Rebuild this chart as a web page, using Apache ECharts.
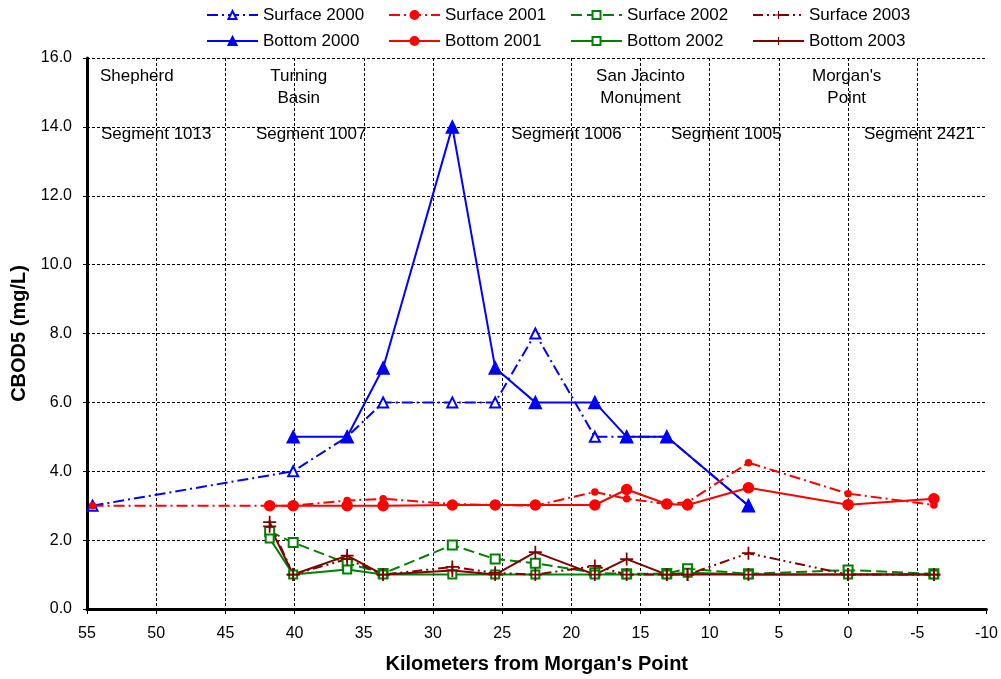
<!DOCTYPE html>
<html>
<head>
<meta charset="utf-8">
<script src="https://cdn.jsdelivr.net/npm/echarts@6/dist/echarts.min.js"></script>
<style>
  html, body { margin: 0; padding: 0; background: #fff; }
  #main { width: 1001px; height: 679px; }
</style>
</head>
<body>
<div id="main"></div>
<script>
// stations, km from Morgan's Point
var stations = [54.6, 41.8, 40.1, 36.2, 33.6, 28.6, 25.5, 22.6, 18.3, 16.0, 13.1, 11.6, 7.2, 0.0, -6.2];

// CBOD5 (mg/L) per station, null = no sample
var surface2000 = [3.0, null, 4.0, 5.0, 6.0, 6.0, 6.0, 8.0, 5.0, 5.0, 5.0, null, 3.0, null, null];
var bottom2000  = [null, null, 5.0, 5.0, 7.0, 14.0, 7.0, 6.0, 6.0, 5.0, 5.0, null, 3.0, null, null];
var surface2001 = [3.0, 3.0, 3.0, 3.15, 3.2, 3.05, 3.02, 3.0, 3.4, 3.2, 3.05, 3.1, 4.25, 3.35, 3.02];
var bottom2001  = [null, 3.0, 3.0, 3.0, 3.0, 3.02, 3.02, 3.02, 3.02, 3.47, 3.05, 3.02, 3.52, 3.03, 3.2];
var surface2002 = [null, 2.25, 1.93, 1.33, 1.03, 1.86, 1.45, 1.33, 1.05, 1.02, 1.03, 1.17, 1.02, 1.13, 1.02];
var bottom2002  = [null, 2.05, 1.0, 1.15, 1.0, 1.0, 1.0, 1.0, 1.0, 1.0, 1.0, 1.05, 1.0, 1.0, 1.0];
var surface2003 = [null, 2.52, 1.0, 1.45, 1.0, 1.22, 1.05, 1.0, 1.25, 1.0, 1.0, 1.0, 1.62, 1.0, 1.0];
var bottom2003  = [null, 2.4, 1.0, 1.55, 1.0, 1.12, 1.0, 1.65, 1.0, 1.45, 1.0, 1.0, 1.0, 1.0, 1.0];

// place / segment notes on the plot
var noteText = ['Shepherd', 'Turning', 'Basin', 'San Jacinto', 'Monument', "Morgan's", 'Point',
                'Segment 1013', 'Segment 1007', 'Segment 1006', 'Segment 1005', 'Segment 2421'];
var noteKm   = [51.4, 39.7, 39.7, 15.0, 15.0, 0.1, 0.1, 50.0, 38.8, 20.35, 8.8, -5.15];
var noteVal  = [15.48, 15.48, 14.84, 15.48, 14.84, 15.48, 14.84, 13.79, 13.79, 13.79, 13.79, 13.79];

var FONT = 'Liberation Sans, Arial, sans-serif';
var plus = 'path://M5.2,0H6.8V5.2H12V6.8H6.8V12H5.2V6.8H0V5.2H5.2Z';

function pairs(vals) {
  var out = [];
  stations.forEach(function (km, i) { if (vals[i] != null) out.push([km, vals[i]]); });
  return out;
}

function line(name, vals, color, dash, symbol, size, bw) {
  return {
    name: name,
    type: 'line',
    data: pairs(vals),
    symbol: symbol,
    symbolSize: size,
    showAllSymbol: true,
    lineStyle: { color: color, width: 2, type: dash },
    itemStyle: { color: color, borderColor: color, borderWidth: bw == null ? 1.5 : bw },
    emphasis: { disabled: true },
    z: 3
  };
}

var dashDot = [11, 4, 2, 4];
var dashDot2 = [10, 4, 2, 4, 2, 4];

var series = [
  line('Surface 2000', surface2000, '#0000ff', dashDot, 'emptyTriangle', 10),
  line('Bottom 2000', bottom2000, '#0000ff', 'solid', 'triangle', 12),
  line('Surface 2001', surface2001, '#ff0000', dashDot, 'circle', 6),
  line('Bottom 2001', bottom2001, '#ff0000', 'solid', 'circle', 10),
  line('Surface 2002', surface2002, '#008000', [11, 5], 'emptyRect', 9),
  line('Bottom 2002', bottom2002, '#008000', 'solid', 'emptyRect', 8, 2.5),
  line('Surface 2003', surface2003, '#800000', dashDot2, plus, 13, 0),
  line('Bottom 2003', bottom2003, '#800000', 'solid', plus, 13, 0),
  {
    type: 'custom',
    name: 'notes',
    silent: true,
    data: noteText.map(function (t, i) { return [noteKm[i], noteVal[i]]; }),
    renderItem: function (params, api) {
      var p = api.coord([api.value(0), api.value(1)]);
      return {
        type: 'text',
        x: p[0], y: p[1],
        style: {
          text: noteText[params.dataIndex],
          fill: '#000',
          font: '17px ' + FONT,
          align: 'center',
          verticalAlign: 'middle'
        }
      };
    },
    z: 2
  }
];

function legendCol(left, names) {
  return {
    orient: 'vertical',
    left: left,
    top: 6,
    padding: 0,
    itemWidth: 51,
    itemHeight: 10,
    itemGap: 8,
    data: names,
    selectedMode: false,
    textStyle: { fontSize: 17, fontFamily: FONT, color: '#000', lineHeight: 18 }
  };
}

var option = {
  backgroundColor: '#fff',
  animation: false,
  legend: [
    legendCol(206, ['Surface 2000', 'Bottom 2000']),
    legendCol(388, ['Surface 2001', 'Bottom 2001']),
    legendCol(570, ['Surface 2002', 'Bottom 2002']),
    legendCol(752, ['Surface 2003', 'Bottom 2003'])
  ],
  grid: { left: 87, right: 12, top: 58, bottom: 70, containLabel: false },
  xAxis: {
    type: 'value',
    inverse: true,
    min: -10, max: 55, interval: 5,
    name: "Kilometers from Morgan's Point",
    nameLocation: 'middle',
    nameGap: 45,
    nameTextStyle: { fontSize: 20, fontWeight: 'bold', fontFamily: FONT, color: '#000' },
    axisLine: { onZero: false, lineStyle: { color: '#000', width: 3 } },
    axisTick: { show: true, length: 5, lineStyle: { color: '#000', width: 1 } },
    axisLabel: { fontSize: 16, fontFamily: FONT, color: '#000', margin: 17 },
    splitLine: { show: true, showMinLine: false, lineStyle: { color: '#000', width: 1, type: [3, 2] } }
  },
  yAxis: {
    type: 'value',
    min: 0, max: 16, interval: 2,
    name: 'CBOD5 (mg/L)',
    nameLocation: 'middle',
    nameGap: 57,
    nameTextStyle: { fontSize: 20, fontWeight: 'bold', fontFamily: FONT, color: '#000' },
    axisLine: { show: true, onZero: false, lineStyle: { color: '#000', width: 3 } },
    axisTick: { show: true, length: 4, lineStyle: { color: '#000', width: 1 } },
    axisLabel: {
      fontSize: 16, fontFamily: FONT, color: '#000', margin: 15,
      formatter: function (v) { return v.toFixed(1); }
    },
    splitLine: { show: true, lineStyle: { color: '#000', width: 1, type: [3, 2] } }
  },
  series: series
};

var chart = echarts.init(document.getElementById('main'));
chart.setOption(option);
</script>
</body>
</html>
